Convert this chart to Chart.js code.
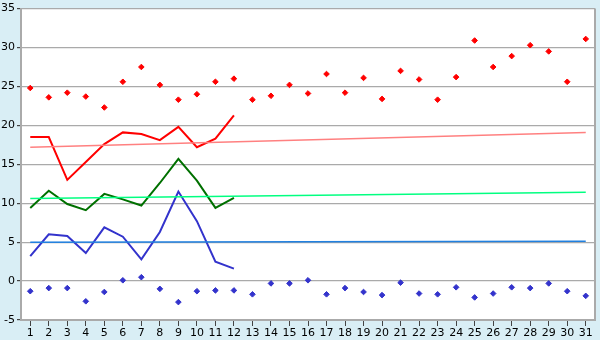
<!DOCTYPE html>
<html>
<head>
<meta charset="utf-8">
<script src="https://cdn.jsdelivr.net/npm/chart.js@4/dist/chart.umd.min.js"></script>
<style>
  body { margin: 0; background: #d9eef5; }
  canvas { display: block; }
</style>
</head>
<body>
<canvas id="tempChart" width="600" height="340"></canvas>
<script>
const days = ['1', '2', '3', '4', '5', '6', '7', '8', '9', '10', '11', '12', '13', '14', '15', '16',
  '17', '18', '19', '20', '21', '22', '23', '24', '25', '26', '27', '28', '29', '30', '31'];

// daily marks (points)
const highPoints = [24.8, 23.6, 24.2, 23.7, 22.3, 25.6, 27.5, 25.2, 23.3, 24.0, 25.6, 26.0, 23.3, 23.8, 25.2, 24.1,
  26.6, 24.2, 26.1, 23.4, 27.0, 25.9, 23.3, 26.2, 30.9, 27.5, 28.9, 30.3, 29.5, 25.6, 31.1];
const lowPoints = [-1.3, -0.9, -0.9, -2.6, -1.4, 0.1, 0.5, -1.0, -2.7, -1.3, -1.2, -1.2, -1.7, -0.3, -0.3, 0.1,
  -1.7, -0.9, -1.4, -1.8, -0.2, -1.6, -1.7, -0.8, -2.1, -1.6, -0.8, -0.9, -0.3, -1.3, -1.9];

// measured lines, first 12 days
const highLine = [18.5, 18.5, 13.0, 15.3, 17.6, 19.1, 18.9, 18.1, 19.8, 17.2, 18.3, 21.3];
const meanLine = [9.4, 11.6, 9.9, 9.1, 11.2, 10.5, 9.7, 12.6, 15.7, 12.9, 9.4, 10.7];
const lowLine = [3.2, 6.0, 5.8, 3.6, 6.9, 5.7, 2.8, 6.3, 11.5, 7.7, 2.5, 1.6];

// normals: start and end values
const highNormal = [17.2, 19.1];
const meanNormal = [10.6, 11.4];
const lowNormal = [5.0, 5.1];

const yTicks = [-5, 35, 5];

function normal(vals) {
  return [{ x: days[0], y: vals[0] }, { x: days[days.length - 1], y: vals[1] }];
}

const plotBg = {
  id: 'plotBg',
  beforeDraw(chart) {
    const a = chart.chartArea;
    const c = chart.ctx;
    c.save();
    c.fillStyle = '#ffffff';
    c.fillRect(a.left, a.top, a.right - a.left, a.bottom - a.top);
    c.restore();
  },
  afterDraw(chart) {
    const a = chart.chartArea;
    const c = chart.ctx;
    c.save();
    c.strokeStyle = '#aaaaaa';
    c.lineWidth = 2;
    c.beginPath();
    c.moveTo(a.right, a.top);
    c.lineTo(a.right, a.bottom);
    c.stroke();
    c.restore();
  }
};

const ctxTemp = document.getElementById('tempChart').getContext('2d');
new Chart(ctxTemp, {
  type: 'line',
  data: {
    labels: days,
    datasets: [
      { data: normal(highNormal), borderColor: '#ff8080', borderWidth: 1.5, pointRadius: 0 },
      { data: normal(meanNormal), borderColor: '#00ff80', borderWidth: 1.5, pointRadius: 0 },
      { data: normal(lowNormal), borderColor: '#2080e0', borderWidth: 1.5, pointRadius: 0 },
      { data: highLine, borderColor: '#ff0000', borderWidth: 2, pointRadius: 0, tension: 0 },
      { data: meanLine, borderColor: '#007000', borderWidth: 2, pointRadius: 0, tension: 0 },
      { data: lowLine, borderColor: '#3333cc', borderWidth: 2, pointRadius: 0, tension: 0 },
      {
        data: highPoints, showLine: false, pointStyle: 'rectRot', pointRadius: 2.8,
        backgroundColor: '#ff0000', borderColor: '#ff0000', borderWidth: 1
      },
      {
        data: lowPoints, showLine: false, pointStyle: 'rectRot', pointRadius: 2.8,
        backgroundColor: '#3333cc', borderColor: '#3333cc', borderWidth: 1
      }
    ]
  },
  options: {
    responsive: false,
    animation: false,
    layout: { padding: { top: 5, right: 5, left: 0, bottom: 0 } },
    plugins: { legend: { display: false }, tooltip: { enabled: false } },
    scales: {
      x: {
        offset: true,
        afterFit(scale) { scale.height = 20; },
        grid: { drawOnChartArea: false, drawTicks: true, tickLength: 6, color: '#444444' },
        border: { color: '#aaaaaa', width: 2 },
        ticks: { color: '#000', font: { family: 'DejaVu Sans', size: 11 }, padding: 1, maxRotation: 0, autoSkip: false }
      },
      y: {
        min: yTicks[0],
        max: yTicks[1],
        afterFit(scale) { scale.width = 21; },
        grid: { color: '#aaaaaa', lineWidth: 1.2, tickLength: 4, tickColor: '#444444' },
        border: { color: '#aaaaaa', width: 2 },
        ticks: { stepSize: yTicks[2], color: '#000', font: { family: 'DejaVu Sans', size: 11 }, padding: 2 }
      }
    }
  },
  plugins: [plotBg]
});
</script>
</body>
</html>
